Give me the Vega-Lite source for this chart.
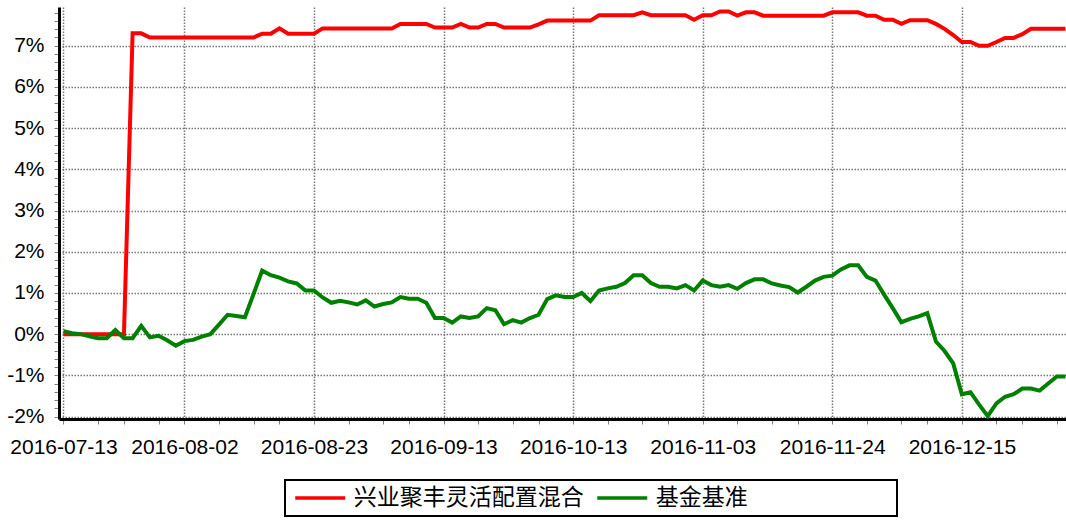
{
  "$schema": "https://vega.github.io/schema/vega-lite/v6.json",
  "width": 1011,
  "height": 412,
  "autosize": "none",
  "padding": {"left": 59, "top": 7, "right": 0, "bottom": 102},
  "background": "white",
  "config": {
    "view": {"stroke": null},
    "legend": {
      "orient": "none",
      "legendX": 226,
      "legendY": 473,
      "direction": "horizontal",
      "columns": 2,
      "gridAlign": "each",
      "symbolType": "M-2.5,0H2.5",
      "symbolSize": 400,
      "symbolStrokeWidth": 3.5,
      "symbolOffset": 17.25,
      "symbolFillColor": "transparent",
      "labelOffset": 21.5,
      "labelFont": "Noto Sans CJK SC",
      "labelFontSize": 23,
      "labelColor": "black",
      "labelLimit": 600,
      "columnPadding": 6,
      "padding": 6,
      "strokeColor": "black",
      "strokeWidth": 2,
      "fillColor": "white"
    }
  },
  "data": {
    "values": [
      {"d": "2016-07-13", "a": 0, "b": 0.07},
      {"d": "2016-07-14", "a": 0, "b": 0.02},
      {"d": "2016-07-15", "a": 0, "b": 0.0},
      {"d": "2016-07-18", "a": 0, "b": -0.05},
      {"d": "2016-07-19", "a": 0, "b": -0.1},
      {"d": "2016-07-20", "a": 0, "b": -0.1},
      {"d": "2016-07-21", "a": 0, "b": 0.1},
      {"d": "2016-07-22", "a": 0, "b": -0.1},
      {"d": "2016-07-25", "a": 7.3, "b": -0.1},
      {"d": "2016-07-26", "a": 7.3, "b": 0.2},
      {"d": "2016-07-27", "a": 7.2, "b": -0.08},
      {"d": "2016-07-28", "a": 7.2, "b": -0.04},
      {"d": "2016-07-29", "a": 7.2, "b": -0.15},
      {"d": "2016-08-01", "a": 7.2, "b": -0.28},
      {"d": "2016-08-02", "a": 7.2, "b": -0.17},
      {"d": "2016-08-03", "a": 7.2, "b": -0.14},
      {"d": "2016-08-04", "a": 7.2, "b": -0.06},
      {"d": "2016-08-05", "a": 7.2, "b": 0.0},
      {"d": "2016-08-08", "a": 7.2, "b": 0.23},
      {"d": "2016-08-09", "a": 7.2, "b": 0.47},
      {"d": "2016-08-10", "a": 7.2, "b": 0.44},
      {"d": "2016-08-11", "a": 7.2, "b": 0.41},
      {"d": "2016-08-12", "a": 7.2, "b": 0.97},
      {"d": "2016-08-15", "a": 7.29, "b": 1.54},
      {"d": "2016-08-16", "a": 7.29, "b": 1.43},
      {"d": "2016-08-17", "a": 7.42, "b": 1.37},
      {"d": "2016-08-18", "a": 7.29, "b": 1.28},
      {"d": "2016-08-19", "a": 7.29, "b": 1.23},
      {"d": "2016-08-22", "a": 7.29, "b": 1.06},
      {"d": "2016-08-23", "a": 7.29, "b": 1.06},
      {"d": "2016-08-24", "a": 7.42, "b": 0.89},
      {"d": "2016-08-25", "a": 7.42, "b": 0.76},
      {"d": "2016-08-26", "a": 7.42, "b": 0.81},
      {"d": "2016-08-29", "a": 7.42, "b": 0.77},
      {"d": "2016-08-30", "a": 7.42, "b": 0.72},
      {"d": "2016-08-31", "a": 7.42, "b": 0.82},
      {"d": "2016-09-01", "a": 7.42, "b": 0.67},
      {"d": "2016-09-02", "a": 7.42, "b": 0.73},
      {"d": "2016-09-05", "a": 7.42, "b": 0.77},
      {"d": "2016-09-06", "a": 7.53, "b": 0.9},
      {"d": "2016-09-07", "a": 7.53, "b": 0.86},
      {"d": "2016-09-08", "a": 7.53, "b": 0.86},
      {"d": "2016-09-09", "a": 7.53, "b": 0.76},
      {"d": "2016-09-12", "a": 7.44, "b": 0.39},
      {"d": "2016-09-13", "a": 7.44, "b": 0.39},
      {"d": "2016-09-14", "a": 7.44, "b": 0.28},
      {"d": "2016-09-19", "a": 7.53, "b": 0.43},
      {"d": "2016-09-20", "a": 7.44, "b": 0.39},
      {"d": "2016-09-21", "a": 7.44, "b": 0.43},
      {"d": "2016-09-22", "a": 7.53, "b": 0.63},
      {"d": "2016-09-23", "a": 7.53, "b": 0.58},
      {"d": "2016-09-26", "a": 7.44, "b": 0.24},
      {"d": "2016-09-27", "a": 7.44, "b": 0.34},
      {"d": "2016-09-28", "a": 7.44, "b": 0.28},
      {"d": "2016-09-29", "a": 7.44, "b": 0.39},
      {"d": "2016-09-30", "a": 7.52, "b": 0.47},
      {"d": "2016-10-10", "a": 7.61, "b": 0.85},
      {"d": "2016-10-11", "a": 7.61, "b": 0.94},
      {"d": "2016-10-12", "a": 7.61, "b": 0.9},
      {"d": "2016-10-13", "a": 7.61, "b": 0.9},
      {"d": "2016-10-14", "a": 7.61, "b": 1.0},
      {"d": "2016-10-17", "a": 7.61, "b": 0.8},
      {"d": "2016-10-18", "a": 7.74, "b": 1.06},
      {"d": "2016-10-19", "a": 7.74, "b": 1.11},
      {"d": "2016-10-20", "a": 7.74, "b": 1.15},
      {"d": "2016-10-21", "a": 7.74, "b": 1.24},
      {"d": "2016-10-24", "a": 7.74, "b": 1.43},
      {"d": "2016-10-25", "a": 7.81, "b": 1.43},
      {"d": "2016-10-26", "a": 7.74, "b": 1.24},
      {"d": "2016-10-27", "a": 7.74, "b": 1.15},
      {"d": "2016-10-28", "a": 7.74, "b": 1.15},
      {"d": "2016-10-31", "a": 7.74, "b": 1.11},
      {"d": "2016-11-01", "a": 7.74, "b": 1.19},
      {"d": "2016-11-02", "a": 7.63, "b": 1.06},
      {"d": "2016-11-03", "a": 7.74, "b": 1.3},
      {"d": "2016-11-04", "a": 7.74, "b": 1.19},
      {"d": "2016-11-07", "a": 7.83, "b": 1.15},
      {"d": "2016-11-08", "a": 7.83, "b": 1.19},
      {"d": "2016-11-09", "a": 7.73, "b": 1.1},
      {"d": "2016-11-10", "a": 7.81, "b": 1.24},
      {"d": "2016-11-11", "a": 7.81, "b": 1.33},
      {"d": "2016-11-14", "a": 7.73, "b": 1.33},
      {"d": "2016-11-15", "a": 7.73, "b": 1.23},
      {"d": "2016-11-16", "a": 7.73, "b": 1.18},
      {"d": "2016-11-17", "a": 7.73, "b": 1.14},
      {"d": "2016-11-18", "a": 7.73, "b": 1.01},
      {"d": "2016-11-21", "a": 7.73, "b": 1.15},
      {"d": "2016-11-22", "a": 7.73, "b": 1.3},
      {"d": "2016-11-23", "a": 7.73, "b": 1.39},
      {"d": "2016-11-24", "a": 7.81, "b": 1.42},
      {"d": "2016-11-25", "a": 7.81, "b": 1.57},
      {"d": "2016-11-28", "a": 7.81, "b": 1.67},
      {"d": "2016-11-29", "a": 7.81, "b": 1.67},
      {"d": "2016-11-30", "a": 7.73, "b": 1.39},
      {"d": "2016-12-01", "a": 7.73, "b": 1.3},
      {"d": "2016-12-02", "a": 7.63, "b": 0.96},
      {"d": "2016-12-05", "a": 7.63, "b": 0.63},
      {"d": "2016-12-06", "a": 7.53, "b": 0.29},
      {"d": "2016-12-07", "a": 7.62, "b": 0.37},
      {"d": "2016-12-08", "a": 7.62, "b": 0.43},
      {"d": "2016-12-09", "a": 7.62, "b": 0.51},
      {"d": "2016-12-12", "a": 7.53, "b": -0.18},
      {"d": "2016-12-13", "a": 7.41, "b": -0.41},
      {"d": "2016-12-14", "a": 7.26, "b": -0.71},
      {"d": "2016-12-15", "a": 7.09, "b": -1.46},
      {"d": "2016-12-16", "a": 7.09, "b": -1.41},
      {"d": "2016-12-19", "a": 7.0, "b": -1.71},
      {"d": "2016-12-20", "a": 7.0, "b": -1.99},
      {"d": "2016-12-21", "a": 7.09, "b": -1.68},
      {"d": "2016-12-22", "a": 7.19, "b": -1.52},
      {"d": "2016-12-23", "a": 7.19, "b": -1.46},
      {"d": "2016-12-26", "a": 7.28, "b": -1.32},
      {"d": "2016-12-27", "a": 7.41, "b": -1.32},
      {"d": "2016-12-28", "a": 7.41, "b": -1.37},
      {"d": "2016-12-29", "a": 7.41, "b": -1.2},
      {"d": "2016-12-30", "a": 7.41, "b": -1.03},
      {"d": "2017-01-03", "a": 7.41, "b": -1.03}
    ]
  },
  "encoding": {
    "x": {
      "field": "d",
      "type": "ordinal",
      "sort": null,
      "scale": {"type": "point", "padding": 0.52},
      "axis": {
        "title": null,
        "values": ["2016-07-13", "2016-07-19", "2016-07-22", "2016-07-28", "2016-08-02", "2016-08-08", "2016-08-12", "2016-08-17", "2016-08-23", "2016-08-29", "2016-09-02", "2016-09-07", "2016-09-13", "2016-09-21", "2016-09-27", "2016-09-30", "2016-10-13", "2016-10-19", "2016-10-25", "2016-10-28", "2016-11-03", "2016-11-09", "2016-11-15", "2016-11-18", "2016-11-24", "2016-11-30", "2016-12-06", "2016-12-09", "2016-12-15", "2016-12-21", "2016-12-26", "2016-12-30"],
        "labelExpr": "indexof(['2016-07-13','2016-08-02','2016-08-23','2016-09-13','2016-10-13','2016-11-03','2016-11-24','2016-12-15'], datum.value) >= 0 ? datum.value : ''",
        "labelOverlap": false,
        "labelAngle": 0,
        "labelFont": "Liberation Sans",
        "labelFontSize": 21,
        "labelColor": "black",
        "labelPadding": 12,
        "grid": true,
        "gridColor": "#777777",
        "gridDash": [1.5, 1.5],
        "gridWidth": 1.5,
        "gridOpacity": {"condition": {"test": "indexof(['2016-07-13','2016-08-02','2016-08-23','2016-09-13','2016-10-13','2016-11-03','2016-11-24','2016-12-15'], datum.value) >= 0", "value": 1}, "value": 0},
        "domainColor": "black",
        "domainWidth": 3,
        "tickColor": "#808080",
        "tickSize": 5,
        "tickWidth": 1
      }
    }
  },
  "layer": [
    {
      "mark": {"type": "line", "strokeWidth": 4, "color": "#ff0000"},
      "encoding": {
        "y": {
          "field": "a",
          "type": "quantitative",
          "scale": {"domain": [-2.06, 7.94], "nice": false, "zero": false},
          "axis": {
            "title": null,
            "values": [-2, -1.8, -1.6, -1.4, -1.2, -1, -0.8, -0.6, -0.4, -0.2, 0, 0.2, 0.4, 0.6, 0.8, 1, 1.2, 1.4, 1.6, 1.8, 2, 2.2, 2.4, 2.6, 2.8, 3, 3.2, 3.4, 3.6, 3.8, 4, 4.2, 4.4, 4.6, 4.8, 5, 5.2, 5.4, 5.6, 5.8, 6, 6.2, 6.4, 6.6, 6.8, 7, 7.2, 7.4, 7.6, 7.8],
            "labelExpr": "abs(datum.value - round(datum.value)) < 0.001 ? round(datum.value) + '%' : ''",
            "labelOverlap": false,
            "labelFont": "Liberation Sans",
            "labelFontSize": 21,
            "labelColor": "black",
            "labelPadding": 10,
            "grid": true,
            "gridColor": "#777777",
            "gridDash": [1.5, 1.5],
            "gridWidth": 1.5,
            "gridOpacity": {"condition": {"test": "abs(datum.value - round(datum.value)) < 0.001", "value": 1}, "value": 0},
            "domainColor": "black",
            "domainWidth": 3,
            "tickColor": "#808080",
            "tickSize": 5,
            "tickWidth": 1
          }
        },
        "color": {
          "datum": "兴业聚丰灵活配置混合",
          "type": "nominal",
          "scale": {"domain": ["兴业聚丰灵活配置混合", "基金基准"], "range": ["#ff0000", "#008000"]},
          "legend": {"title": null, "labelExpr": "datum.value === '基金基准' ? datum.value + '\u3000\u3000\u3000\u3000\u3000\u3000\u00a0\u200b' : datum.value"}
        }
      }
    },
    {
      "mark": {"type": "line", "strokeWidth": 4, "color": "#008000"},
      "encoding": {
        "y": {
          "field": "b",
          "type": "quantitative",
          "scale": {"domain": [-2.06, 7.94], "nice": false, "zero": false},
          "axis": {
            "title": null,
            "values": [-2, -1.8, -1.6, -1.4, -1.2, -1, -0.8, -0.6, -0.4, -0.2, 0, 0.2, 0.4, 0.6, 0.8, 1, 1.2, 1.4, 1.6, 1.8, 2, 2.2, 2.4, 2.6, 2.8, 3, 3.2, 3.4, 3.6, 3.8, 4, 4.2, 4.4, 4.6, 4.8, 5, 5.2, 5.4, 5.6, 5.8, 6, 6.2, 6.4, 6.6, 6.8, 7, 7.2, 7.4, 7.6, 7.8],
            "labelExpr": "abs(datum.value - round(datum.value)) < 0.001 ? round(datum.value) + '%' : ''",
            "labelOverlap": false,
            "labelFont": "Liberation Sans",
            "labelFontSize": 21,
            "labelColor": "black",
            "labelPadding": 10,
            "grid": true,
            "gridColor": "#777777",
            "gridDash": [1.5, 1.5],
            "gridWidth": 1.5,
            "gridOpacity": {"condition": {"test": "abs(datum.value - round(datum.value)) < 0.001", "value": 1}, "value": 0},
            "domainColor": "black",
            "domainWidth": 3,
            "tickColor": "#808080",
            "tickSize": 5,
            "tickWidth": 1
          }
        },
        "color": {
          "datum": "基金基准",
          "type": "nominal",
          "legend": {"title": null, "labelExpr": "datum.value === '基金基准' ? datum.value + '\u3000\u3000\u3000\u3000\u3000\u3000\u00a0\u200b' : datum.value"}
        }
      }
    }
  ]
}
